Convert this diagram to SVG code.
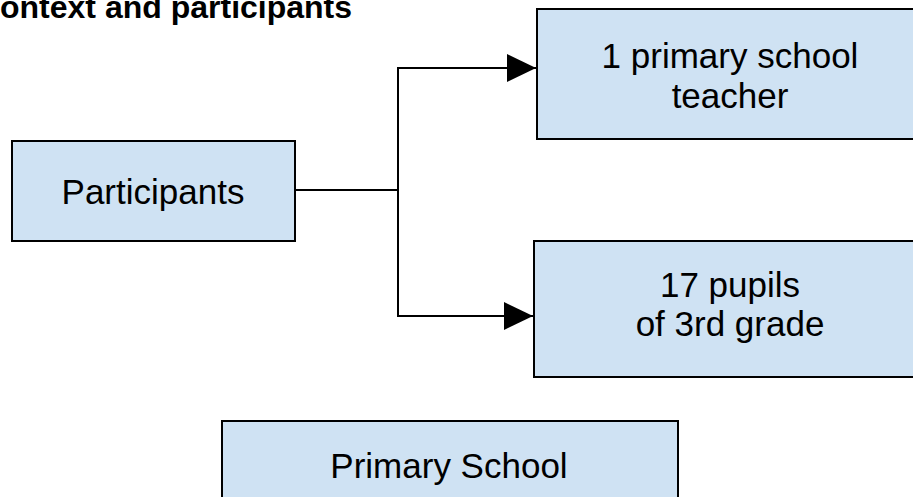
<svg xmlns="http://www.w3.org/2000/svg" width="913" height="497" viewBox="0 0 913 497">
<style>
.box{fill:#cfe2f3;stroke:#000;stroke-width:2}
.lbl{font-family:"Liberation Sans",Arial,sans-serif;font-size:35px;fill:#000;text-anchor:middle}
.title{font-family:"Liberation Sans",Arial,sans-serif;font-size:32px;font-weight:bold;fill:#000}
.conn{fill:none;stroke:#000;stroke-width:2}
</style>
<defs>
<marker id="arr" markerUnits="userSpaceOnUse" markerWidth="30" markerHeight="30" viewBox="0 0 30 30" refX="29" refY="15" orient="auto">
<path d="M0,1 L29,15 L0,29 Z" fill="#000"/>
</marker>
</defs>
<rect width="913" height="497" fill="#fff"/>
<text class="title" x="0" y="18">ontext and participants</text>
<g id="connectors">
<polyline class="conn" points="295,190 398,190"/>
<polyline class="conn" points="398,190 398,68 536,68" marker-end="url(#arr)"/>
<polyline class="conn" points="398,190 398,316 533,316" marker-end="url(#arr)"/>
</g>
<g id="participants">
<rect class="box" x="12" y="141" width="283" height="100"/>
<text class="lbl" x="153" y="204">Participants</text>
</g>
<g id="teacher">
<rect class="box" x="537" y="9" width="390" height="130"/>
<text class="lbl" x="730" y="68">1 primary school</text>
<text class="lbl" x="730" y="108">teacher</text>
</g>
<g id="pupils">
<rect class="box" x="534" y="241" width="393" height="136"/>
<text class="lbl" x="730" y="297">17 pupils</text>
<text class="lbl" x="730" y="336">of 3rd grade</text>
</g>
<g id="school">
<rect class="box" x="222" y="421" width="456" height="90"/>
<text class="lbl" x="449" y="478">Primary School</text>
</g>
</svg>
